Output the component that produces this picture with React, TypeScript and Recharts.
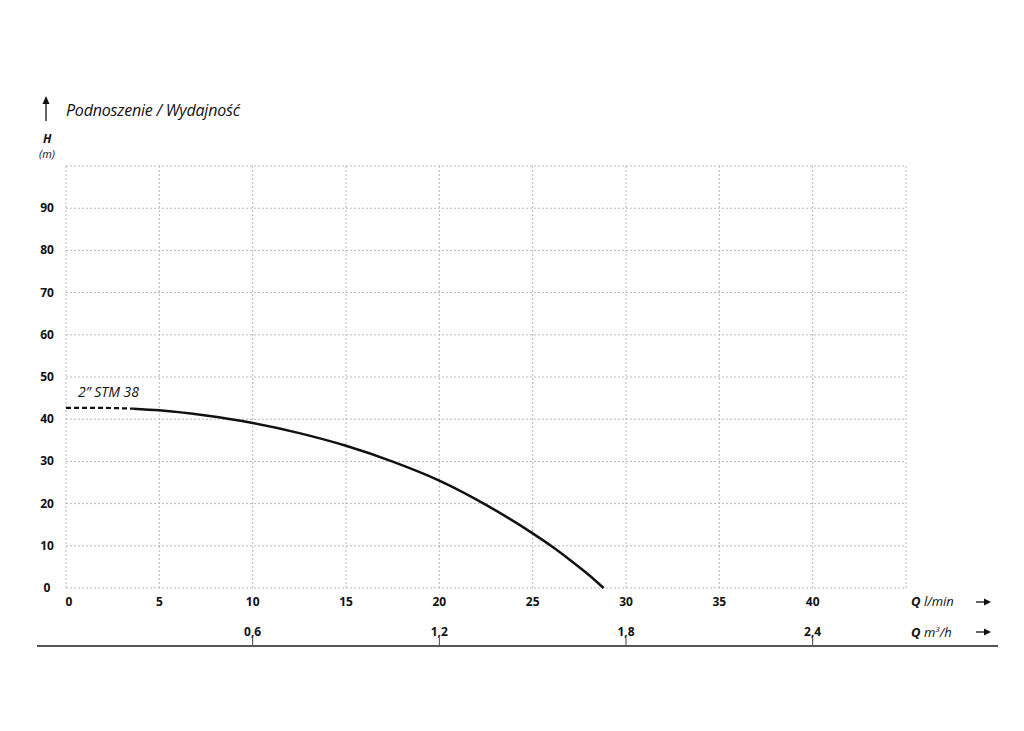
import { LineChart, Line, XAxis, YAxis, CartesianGrid, LabelList } from "recharts"

if (typeof document !== "undefined") document.body.style.margin = "0"

// Pump curve: flow Q (l/min) vs head H (m)
const FLOW_LMIN = [0, 1.5, 3.6, 5, 7.5, 10, 12.5, 15, 17.5, 20, 22.5, 25, 26, 27, 28, 28.8]
const HEAD_M = [42.7, 42.7, 42.5, 42.1, 40.85, 39.1, 36.7, 33.7, 29.95, 25.45, 19.7, 12.95, 9.95, 6.65, 3.15, 0]
const DASHED_UNTIL = 3 // first points are drawn dashed
const SERIES_NAME = "2” STM 38"

const X_TICKS = [0, 5, 10, 15, 20, 25, 30, 35, 40, 45]
const Y_TICKS = [0, 10, 20, 30, 40, 50, 60, 70, 80, 90, 100]
const M3H_TICKS = [0.6, 1.2, 1.8, 2.4]
const LMIN_TO_M3H = 0.06

const points = FLOW_LMIN.map((q, i) => ({ q, h: HEAD_M[i] }))
const dashed = points.slice(0, DASHED_UNTIL).map((p, i) => ({ ...p, tag: i === 0 ? SERIES_NAME : undefined }))
const solid = points.slice(DASHED_UNTIL - 1)

const FONT = "'Open Sans', 'Noto Sans', sans-serif"
const tickText = { fontFamily: FONT, fontSize: 12, fontWeight: 700, fill: "#111" }

// l/min label on the first row, the matching m3/h label (if any) on the second row
const XTick = ({ x, y, payload }: any) => {
  const v = payload.value
  const m3 = M3H_TICKS.find((m) => Math.abs(m - v * LMIN_TO_M3H) < 1e-6)
  return (
    <g>
      {v !== 45 && (
        <text x={x + (v === 0 ? 3 : 0)} y={y + 18} textAnchor="middle" {...tickText}>{v}</text>
      )}
      {m3 !== undefined && (
        <>
          <text x={x} y={y + 48} textAnchor="middle" {...tickText}>{String(m3).replace(".", ",")}</text>
          <line x1={x} x2={x} y1={y + 50} y2={y + 58} stroke="#444" strokeWidth={1} />
        </>
      )}
    </g>
  )
}

const YTick = ({ x, y, payload }: any) =>
  payload.value === 100 ? null : (
    <text x={x - 19} y={y + 4} textAnchor="middle" {...tickText}>{payload.value}</text>
  )

const SeriesTag = ({ x, y, value }: any) =>
  value ? (
    <text x={x + 12} y={y - 11} fontFamily={FONT} fontStyle="italic" fontSize={14} fill="#111">{value}</text>
  ) : null

const Arrow = ({ top }: { top: number }) => (
  <svg style={{ position: "absolute", left: 976, top: top - 5, overflow: "visible" }} width={16} height={10}>
    <line x1={0} y1={5} x2={10} y2={5} stroke="#111" strokeWidth={1.3} />
    <path d="M8 1.5 L15 5 L8 8.5 Z" fill="#111" />
  </svg>
)

const abs = (left: number, top: number, extra: React.CSSProperties = {}): React.CSSProperties => ({
  position: "absolute", left, top, fontFamily: FONT, color: "#111", lineHeight: 1, whiteSpace: "nowrap", ...extra,
})

export default function App() {
  return (
    <div style={{ position: "relative", width: 1024, height: 731, background: "#fff" }}>
      <LineChart width={1024} height={731} margin={{ top: 166, right: 118, left: 36, bottom: 73 }}>
        <CartesianGrid stroke="#b8b8b8" strokeDasharray="2 2" strokeWidth={1} />
        <XAxis dataKey="q" type="number" domain={[0, 45]} ticks={X_TICKS} height={70}
          axisLine={false} tickLine={false} tickSize={0} tickMargin={0} tick={<XTick />} interval={0} />
        <YAxis dataKey="h" type="number" domain={[0, 100]} ticks={Y_TICKS} width={30}
          axisLine={false} tickLine={false} tickSize={0} tickMargin={0} tick={<YTick />} interval={0} />
        <Line data={dashed} dataKey="h" type="monotone" stroke="#111" strokeWidth={2.2}
          strokeDasharray="5 3" dot={false} isAnimationActive={false}>
          <LabelList dataKey="tag" content={<SeriesTag />} />
        </Line>
        <Line data={solid} dataKey="h" type="monotone" stroke="#111" strokeWidth={2.5}
          dot={false} isAnimationActive={false} />
      </LineChart>

      <div style={{ position: "absolute", left: 37, top: 645, width: 961, height: 2, background: "#555" }} />

      <svg style={{ position: "absolute", left: 41, top: 96 }} width={10} height={26}>
        <line x1={5} y1={5} x2={5} y2={25} stroke="#111" strokeWidth={1.3} />
        <path d="M1.5 8 L5 0 L8.5 8 Z" fill="#111" />
      </svg>
      <div style={abs(66, 102, { fontSize: 16, fontStyle: "italic", letterSpacing: -0.2 })}>Podnoszenie / Wydajność</div>
      <div style={abs(43, 133, { fontSize: 12, fontStyle: "italic", fontWeight: 700 })}>H</div>
      <div style={abs(39, 148, { fontSize: 11, fontStyle: "italic" })}>(m)</div>

      <div style={abs(911, 595, { fontSize: 13, fontStyle: "italic" })}><b>Q</b> l/min</div>
      <Arrow top={602} />
      <div style={abs(911, 625, { fontSize: 13, fontStyle: "italic" })}><b>Q</b> m<sup style={{ fontSize: 8 }}>3</sup>/h</div>
      <Arrow top={632} />
    </div>
  )
}
